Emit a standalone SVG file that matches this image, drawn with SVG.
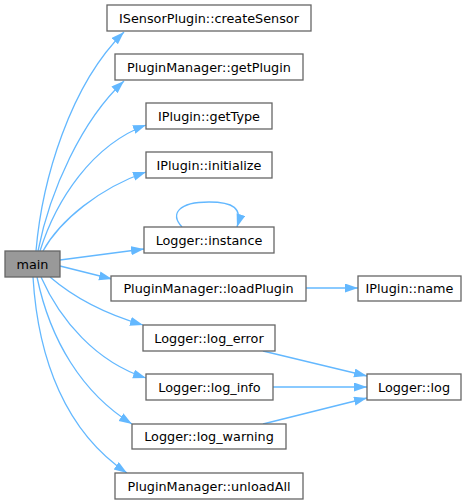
<svg xmlns="http://www.w3.org/2000/svg" width="475" height="504" viewBox="0 0 475 504">
<style>
.n rect{fill:#fff;stroke:#666;stroke-width:1.3}
.n text{font-family:"DejaVu Sans",sans-serif;font-size:12.8px;fill:#000;text-anchor:middle}
#main rect{fill:#999}
.e path{fill:none;stroke:#63b8ff;stroke-width:1.3;marker-end:url(#ah)}
</style>
<defs>
<marker id="ah" markerUnits="userSpaceOnUse" markerWidth="14" markerHeight="10" refX="13" refY="4.5" orient="auto">
<path d="M0,0 L13,4.5 L0,9 z" fill="#63b8ff"/>
</marker>
</defs>
<rect width="475" height="504" fill="#fff"/>
<g id="edges" class="e">
<path d="M36,251 C42,180 70,85 124,32"/>
<path d="M38,251 C50,190 82,120 124,81"/>
<path d="M40,251 C56,200 92,145 146,125"/>
<path d="M43,251 C60,220 100,188 146,172"/>
<path d="M60,260 L144,249"/>
<path d="M182,227 C170,214 178,202 209,202 C233,202 243,208 237,227"/>
<path d="M60,266 L112,279"/>
<path d="M50,277 C72,296 102,313 143,325"/>
<path d="M41,277 C60,320 96,362 146,378"/>
<path d="M37,277 C50,340 82,393 132,424"/>
<path d="M33,277 C38,360 66,432 127,473"/>
<path d="M306,288 L358,288"/>
<path d="M263,351 L367,376"/>
<path d="M273,387 L367,387"/>
<path d="M263,424 L367,398"/>
</g>
<g id="main" class="n"><rect x="5" y="251" width="55" height="26"/><text x="32.5" y="268.5">main</text></g>
<g id="createSensor" class="n"><rect x="107" y="5" width="204" height="26"/><text x="209" y="22.5">ISensorPlugin::createSensor</text></g>
<g id="getPlugin" class="n"><rect x="115" y="54" width="188" height="26"/><text x="209" y="71.5">PluginManager::getPlugin</text></g>
<g id="getType" class="n"><rect x="146" y="103" width="126" height="26"/><text x="209" y="120.5">IPlugin::getType</text></g>
<g id="initialize" class="n"><rect x="146" y="152" width="126" height="26"/><text x="209" y="169.5">IPlugin::initialize</text></g>
<g id="instance" class="n"><rect x="144" y="227" width="130" height="26"/><text x="209" y="244.5">Logger::instance</text></g>
<g id="loadPlugin" class="n"><rect x="111" y="276" width="195" height="25"/><text x="208.5" y="293">PluginManager::loadPlugin</text></g>
<g id="name" class="n"><rect x="358" y="276" width="103" height="25"/><text x="409.5" y="293">IPlugin::name</text></g>
<g id="log_error" class="n"><rect x="143" y="325" width="132" height="26"/><text x="209" y="342.5">Logger::log_error</text></g>
<g id="log_info" class="n"><rect x="146" y="374" width="127" height="26"/><text x="209.5" y="391.5">Logger::log_info</text></g>
<g id="log" class="n"><rect x="367" y="374" width="94" height="26"/><text x="414" y="391.5">Logger::log</text></g>
<g id="log_warning" class="n"><rect x="132" y="424" width="154" height="25"/><text x="209" y="441">Logger::log_warning</text></g>
<g id="unloadAll" class="n"><rect x="115" y="473" width="188" height="26"/><text x="209" y="490.5">PluginManager::unloadAll</text></g>
</svg>
